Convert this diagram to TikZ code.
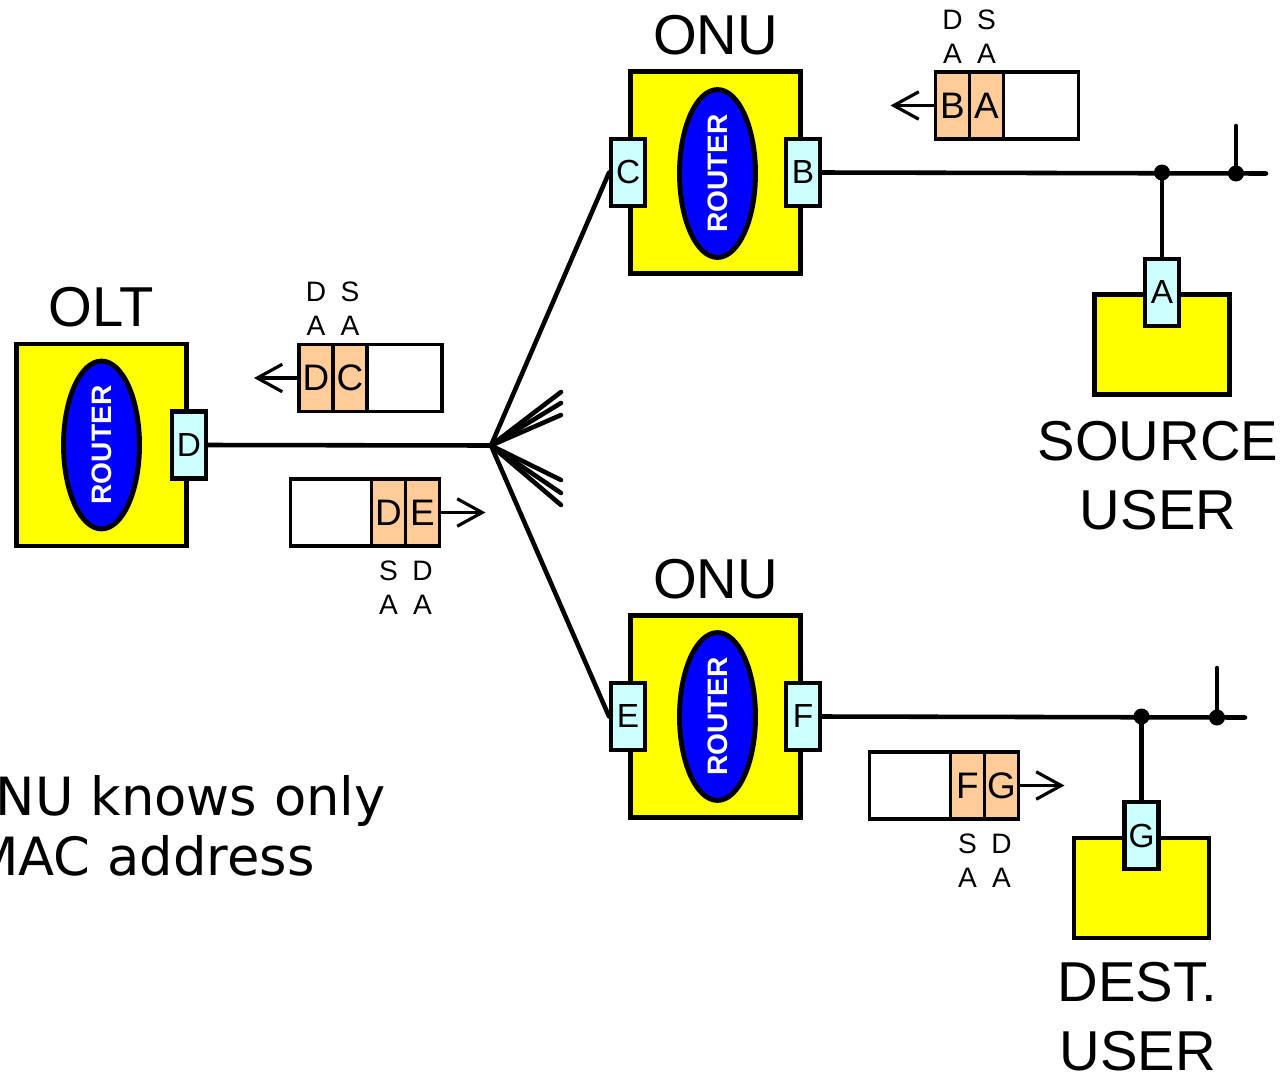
\documentclass[tikz,border=0pt]{standalone}
\usepackage{fontspec}
\setmainfont{Liberation Sans}
\newfontfamily\notefont{DejaVu Sans}
\usetikzlibrary{shapes.geometric, arrows.meta, positioning}

\definecolor{boxyellow}{HTML}{FFFF00}
\definecolor{routerblue}{HTML}{0000FF}
\definecolor{portcyan}{HTML}{CCFFFF}
\definecolor{hdrorange}{HTML}{FFCC99}

\begin{document}
\begin{tikzpicture}[
    x=0.02cm, y=-0.02cm,
    >={Straight Barb[length=0.5cm, width=0.55cm]},
    devbox/.style={rectangle, draw=black, line width=2.8pt, fill=boxyellow, minimum width=3.4cm, minimum height=4.04cm},
    userbox/.style={rectangle, draw=black, line width=2.8pt, fill=boxyellow, minimum width=2.7cm, minimum height=2cm},
    router/.style={ellipse, draw=black, line width=2.8pt, fill=routerblue, rotate=90, minimum width=3.28cm, minimum height=1.52cm, inner sep=0pt, text=white, font=\fontsize{16}{18}\selectfont\bfseries},
    port/.style={rectangle, draw=black, line width=2.3pt, fill=portcyan, minimum width=0.68cm, minimum height=1.34cm, inner sep=0pt, font=\fontsize{19}{21}\selectfont},
    hdr/.style={rectangle, draw=black, line width=2pt, fill=hdrorange, minimum width=0.68cm, minimum height=1.34cm, inner sep=0pt, outer sep=0pt, font=\fontsize{21}{23}\selectfont},
    payload/.style={rectangle, draw=black, line width=2pt, fill=white, minimum height=1.34cm, inner sep=0pt, outer sep=0pt},
    addr/.style={align=center, inner sep=2pt, font=\fontsize{16}{19.3}\selectfont},
    devlabel/.style={align=center, inner sep=2pt, font=\fontsize{32}{39.5}\selectfont},
    link/.style={line width=2.6pt, line cap=round},
    pkt/.style={->, line width=1.8pt},
    junction/.style={circle, fill=black, inner sep=0pt, minimum size=0.32cm},
    note/.style={anchor=base west, inner sep=0pt, font=\notefont\fontsize{30}{34}\selectfont}
]
\useasboundingbox (0,0) rectangle (1282,1079);

% Nodes
\node[devbox] (olt) at (101.5,445) {};
\node[router] (oltRouter) at (olt) {ROUTER};
\node[port] (portD) at (olt.east) {D};
\node[devlabel, above=0.22cm of olt] (oltLabel) {OLT};

\node[devbox] (onuUp) at (715.5,172.5) {};
\node[router] (onuUpRouter) at (717.5,173.5) {ROUTER};
\node[port] (portC) at (onuUp.west) {C};
\node[port] (portB) at (onuUp.east) {B};
\node[devlabel, above=0.2cm of onuUp] (onuUpLabel) {ONU};

\node[devbox] (onuDn) at (715.5,716.5) {};
\node[router] (onuDnRouter) at (717.5,716.5) {ROUTER};
\node[port] (portE) at (onuDn.west) {E};
\node[port] (portF) at (onuDn.east) {F};
\node[devlabel, above=0.2cm of onuDn] (onuDnLabel) {ONU};

\node[userbox] (srcUser) at (1162,344.5) {};
\node[port] (portA) at (srcUser.north) {A};
\node[devlabel, below=0.4cm of srcUser, xshift=-0.08cm] (srcLabel) {SOURCE\\USER};

\node[userbox] (dstUser) at (1141.5,888) {};
\node[port] (portG) at (dstUser.north) {G};
\node[devlabel, below=0.36cm of dstUser, xshift=-0.08cm] (dstLabel) {DEST.\\USER};

% Frames
\node[hdr] (ba1) at (952.5,105.5) {B};
\node[hdr, right=0pt of ba1] (ba2) {A};
\node[payload, minimum width=1.5cm, right=0pt of ba2] (ba3) {};
\node[addr, above=0.1cm of ba1] {D\\A};
\node[addr, above=0.1cm of ba2] {S\\A};
\coordinate[left=0.9cm of ba1] (baTip);

\node[hdr] (dc1) at (316,378) {D};
\node[hdr, right=0pt of dc1] (dc2) {C};
\node[payload, minimum width=1.5cm, right=0pt of dc2] (dc3) {};
\node[addr, above=0.1cm of dc1] {D\\A};
\node[addr, above=0.1cm of dc2] {S\\A};
\coordinate[left=0.9cm of dc1] (dcTip);

\node[payload, minimum width=1.62cm] (de1) at (331,512.5) {};
\node[hdr, right=0pt of de1] (de2) {D};
\node[hdr, right=0pt of de2] (de3) {E};
\node[addr, below=0.22cm of de2] {S\\A};
\node[addr, below=0.22cm of de3] {D\\A};
\coordinate[right=0.92cm of de3] (deTip);

\node[payload, minimum width=1.62cm] (fg1) at (910,785.5) {};
\node[hdr, right=0pt of fg1] (fg2) {F};
\node[hdr, right=0pt of fg2] (fg3) {G};
\node[addr, below=0.22cm of fg2] {S\\A};
\node[addr, below=0.22cm of fg3] {D\\A};
\coordinate[right=0.92cm of fg3] (fgTip);

\node[note] (noteTop) at (-46,815) {ONU knows only};
\node[note] (noteBot) at (-27,875) {MAC address};

% Links
\coordinate (split) at (491,445.5);
\draw[link] (portD.east) -- (split);
\draw[link] (split) -- (portC.west);
\draw[link] (split) -- (portE.west);
\foreach \y [count=\i] in {392,403,415,480,493,505} {
    \coordinate (fan\i) at (561,\y);
    \draw[link] (split) -- (fan\i);
}

\coordinate (jA) at (portA |- portB);
\coordinate (tapUp) at (1236,173.5);
\coordinate (stubUp) at (1236,126);
\coordinate (busUpEnd) at (1266,173.5);
\draw[link] (portB.east) -- (busUpEnd);
\draw[link] (jA) -- (portA.north);
\draw[link] (tapUp) -- (stubUp);
\node[junction] at (jA) {};
\node[junction] at (tapUp) {};

\coordinate (jG) at (portG |- portF);
\coordinate (tapDn) at (1217,717.5);
\coordinate (stubDn) at (1217,668);
\coordinate (busDnEnd) at (1245,717.5);
\draw[link] (portF.east) -- (busDnEnd);
\draw[link] (jG) -- (portG.north);
\draw[link] (tapDn) -- (stubDn);
\node[junction] at (jG) {};
\node[junction] at (tapDn) {};

% Packets
\draw[pkt] (ba1.west) -- (baTip);
\draw[pkt] (dc1.west) -- (dcTip);
\draw[pkt] (de3.east) -- (deTip);
\draw[pkt] (fg3.east) -- (fgTip);

\end{tikzpicture}
\end{document}
